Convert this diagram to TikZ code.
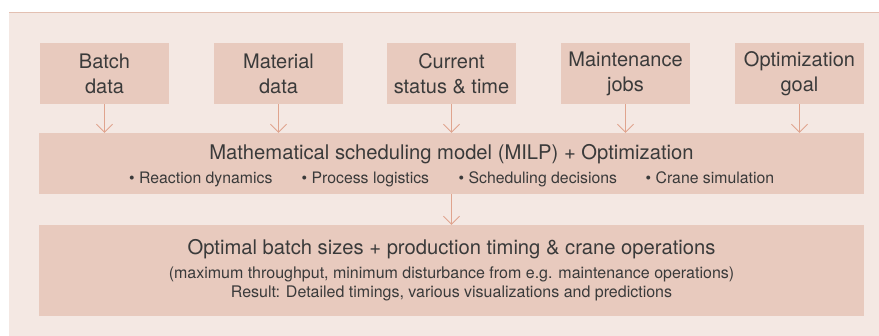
\documentclass[tikz,border=0pt]{standalone}
\usepackage{fontspec}
\setmainfont{TeX Gyre Heros}
\usetikzlibrary{arrows.meta}
\definecolor{panelbg}{HTML}{F4E8E3}
\definecolor{panelline}{HTML}{E3C0B2}
\definecolor{boxfill}{HTML}{E8CABE}
\definecolor{linkcol}{HTML}{E0A48E}
\definecolor{txt}{HTML}{3A3A3A}
\tikzset{
  inputbox/.style={fill=boxfill, draw=none, minimum width=129pt, minimum height=61pt,
    inner sep=0pt, align=center, text=txt, font=\fontsize{20}{25}\selectfont},
  widebox/.style={fill=boxfill, draw=none, inner sep=0pt},
  headtext/.style={anchor=base, inner sep=0pt, text=txt, font=\fontsize{20.2}{24}\selectfont},
  smalltext/.style={anchor=base, inner sep=0pt, text=txt, font=\fontsize{16}{19}\selectfont},
  bullettext/.style={anchor=base west, inner sep=0pt, text=txt, font=\fontsize{15.8}{19}\selectfont},
  link/.style={draw=linkcol, line width=0.9pt, -{Straight Barb[length=8pt,width=16pt,line width=0.9pt]}}
}
\begin{document}
\begin{tikzpicture}[x=1pt,y=-1pt]
  \useasboundingbox (0,0) rectangle (879,336);
  % background panel with its top rule (runs past the page edge)
  \fill[panelbg] (9,13) rectangle (900,360);
  \draw[panelline, line width=1pt] (9,13) -- (900,13);

  % input boxes
  \node[inputbox] (batch)    at (104.5,73.5) {Batch\\data};
  \node[inputbox] (material) at (278.5,73.5) {Material\\data};
  \node[inputbox] (status)   at (451.5,73.5) {Current\\status \& time};
  \node[inputbox] (maint)    at (625.5,73.5) {Maintenance\\jobs};
  \node[inputbox] (goal)     at (799.5,73.5) {Optimization\\goal};

  % model box
  \node[widebox, minimum width=825pt, minimum height=61pt] (model) at (451.5,163.5) {};
  \node[headtext] (modeltitle) at (451.5,160) {Mathematical scheduling model (MILP) + Optimization};
  \node[bullettext] (b1) at (129,184) {• Reaction dynamics};
  \node[bullettext] (b2) at (301.5,184) {• Process logistics};
  \node[bullettext] (b3) at (458.5,184) {• Scheduling decisions};
  \node[bullettext] (b4) at (645.5,184) {• Crane simulation};

  % result box
  \node[widebox, minimum width=825pt, minimum height=91pt] (result) at (451.5,270.5) {};
  \node[headtext] (restitle) at (451.5,255) {Optimal batch sizes + production timing \& crane operations};
  \node[smalltext] (resline1) at (451.5,279) {(maximum throughput, minimum disturbance from e.g. maintenance operations)};
  \node[smalltext] (resline2) at (451.5,298) {Result: Detailed timings, various visualizations and predictions};

  % connectors
  \foreach \n in {batch,material,status,maint,goal}
    \draw[link] (\n.south) -- (\n.south |- model.north);
  \draw[link] (model.south -| status.south) -- (result.north -| status.south);
\end{tikzpicture}
\end{document}
